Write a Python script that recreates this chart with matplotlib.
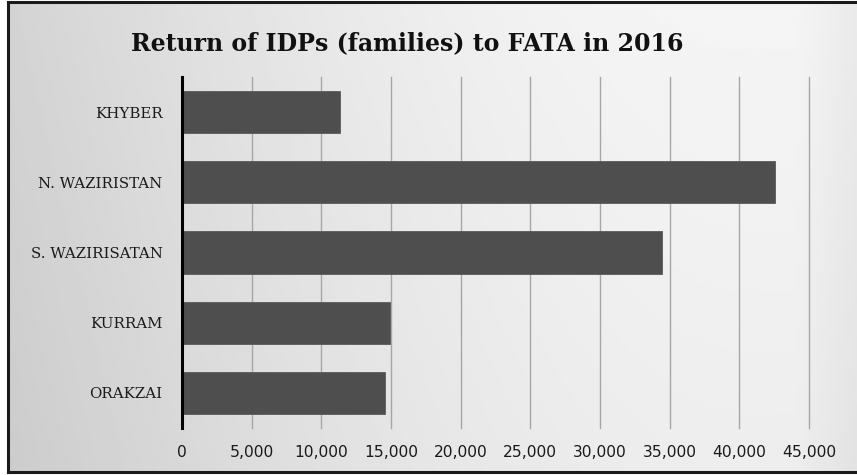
import matplotlib
matplotlib.use("Agg")
from matplotlib import pyplot as plt
from matplotlib.ticker import FuncFormatter
import numpy as np


agencies = ['KHYBER', 'N. WAZIRISTAN', 'S. WAZIRISATAN', 'KURRAM', 'ORAKZAI']
families = [11350, 42550, 34450, 14950, 14600]
x_ticks = [0, 5000, 10000, 15000, 20000, 25000, 30000, 35000, 40000, 45000]

W, H = 857, 475


def fx(px):
	return px / W

def fy(px):
	return 1 - px / H


fig = plt.figure(figsize=(W / 100, H / 100), dpi=100)
fig.patch.set_facecolor('white')

# grey gradient panel behind everything
bg = fig.add_axes([fx(8), fy(472), fx(857) - fx(8), fy(2) - fy(472)], zorder=0)
xs = np.linspace(0, 1, 300)
ys = np.linspace(0, 1, 100)
gx, gy = np.meshgrid(xs, ys)
shade = 0.83 + 0.13 * np.sin(np.clip(gx * 1.15, 0, 1) * np.pi / 2) - 0.03 * gy
shade -= 0.04 * np.clip((gx - 0.93) / 0.07, 0, 1)
bg.imshow(shade, cmap='gray', vmin=0, vmax=1, aspect='auto', extent=[0, 1, 0, 1], interpolation='bilinear')
bg.set_xticks([])
bg.set_yticks([])
bg.spines['right'].set_visible(False)
for side in ['left', 'top', 'bottom']:
	bg.spines[side].set_linewidth(2.2)
	bg.spines[side].set_color('#1a1a1a')

ax = fig.add_axes([fx(182), fy(428), fx(809) - fx(182), fy(77) - fy(428)], zorder=1)
ax.patch.set_alpha(0)

pos = np.arange(len(agencies))
ax.barh(pos, families, height=0.6, color='#4e4e4e', edgecolor='#5a5a5a', linewidth=0.6, zorder=3)
ax.set_ylim(len(agencies) - 0.5, -0.5)
ax.set_xlim(0, 45000)

ax.set_xticks(x_ticks)
ax.xaxis.set_major_formatter(FuncFormatter(lambda v, p: '{:,.0f}'.format(v)))
ax.grid(axis='x', color='#a6a6a6', linewidth=1.0, zorder=1)
for gl in ax.get_xgridlines():
	gl.set_clip_on(False)
ax.set_yticks(pos)
ax.set_yticklabels(agencies, fontfamily='DejaVu Serif', fontsize=10.8, color='#1a1a1a')
for lab in ax.get_xticklabels():
	lab.set_fontfamily('DejaVu Sans')
	lab.set_fontsize(11.2)
	lab.set_color('#1a1a1a')
ax.tick_params(axis='both', length=0)
ax.tick_params(axis='x', pad=12)
ax.tick_params(axis='y', pad=14)

for side in ['top', 'right', 'bottom']:
	ax.spines[side].set_visible(False)
ax.spines['left'].set_linewidth(2.2)
ax.spines['left'].set_color('black')
ax.spines['left'].set_zorder(4)

fig.text(fx(407), fy(43), 'Return of IDPs (families) to FATA in 2016', ha='center', va='center',
	fontfamily='DejaVu Serif', fontweight='bold', fontsize=17, color='#111111')

plt.savefig('out.png', dpi=100)
